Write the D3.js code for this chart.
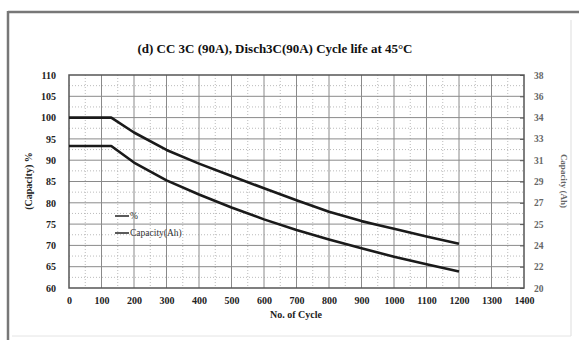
<!DOCTYPE html>
<html><head><meta charset="utf-8">
<script src="https://cdn.jsdelivr.net/npm/d3@7"></script>
<style>
html,body{margin:0;padding:0;background:#fff;}
svg{display:block;font-family:"Liberation Serif","Times New Roman",serif;}
</style></head>
<body><svg id="c" width="579" height="340"></svg>
<script>
const title = "(d) CC 3C (90A), Disch3C(90A) Cycle life at 45°C";
const cycles = [0, 130, 200, 300, 400, 500, 600, 700, 800, 900, 950, 1000, 1100, 1200];
const percentValues = [100, 100, 96.5, 92.4, 89.2, 86.3, 83.4, 80.6, 77.9, 75.7, 74.8, 73.9, 72.1, 70.4];
const capacityAh = [32.0, 32.0, 30.6, 29.1, 27.9, 26.8, 25.8, 24.9, 24.1, 23.35, 23.0, 22.65, 22.0, 21.4];
const xTicks = [0,100,200,300,400,500,600,700,800,900,1000,1100,1200,1300,1400];
const leftTicks = [60,65,70,75,80,85,90,95,100,105,110];
const rightTickLabels = ["20","22","24","25","27","29","31","33","34","36","38"];
const legendLabels = ["%", "Capacity(Ah)"];

const svg = d3.select("#c");
// frame
svg.append("line").attr("x1",8).attr("y1",12).attr("x2",579).attr("y2",12).attr("stroke","#777").attr("stroke-width",2.5);
svg.append("line").attr("x1",8).attr("y1",11).attr("x2",8).attr("y2",340).attr("stroke","#777").attr("stroke-width",2.5);
svg.append("line").attr("x1",571).attr("y1",20).attr("x2",571).attr("y2",336).attr("stroke","#ddd").attr("stroke-width",1);
svg.append("line").attr("x1",12).attr("y1",336).attr("x2",571).attr("y2",336).attr("stroke","#e4e4e4").attr("stroke-width",1);

const L=69, R=524, T=75, B=288;
const x = d3.scaleLinear().domain([0,1400]).range([L,R]);
const y = d3.scaleLinear().domain([60,110]).range([B,T]);
const y2 = d3.scaleLinear().domain([20,38]).range([B,T]);

// minor grid
const g = svg.append("g");
g.selectAll(".mv").data(d3.range(50,1400,100)).join("line")
  .attr("x1",d=>x(d)).attr("x2",d=>x(d)).attr("y1",T).attr("y2",B)
  .attr("stroke","#aaa").attr("stroke-width",0.8).attr("stroke-dasharray","1,2");
g.selectAll(".mh").data(d3.range(62.5,110,5)).join("line")
  .attr("x1",L).attr("x2",R).attr("y1",d=>y(d)).attr("y2",d=>y(d))
  .attr("stroke","#aaa").attr("stroke-width",0.8).attr("stroke-dasharray","1,2");
// major grid
g.selectAll(".gv").data(xTicks.slice(1,-1)).join("line")
  .attr("x1",d=>x(d)).attr("x2",d=>x(d)).attr("y1",T).attr("y2",B)
  .attr("stroke","#8a8a8a").attr("stroke-width",1);
g.selectAll(".gh").data(leftTicks.slice(1,-1)).join("line")
  .attr("x1",L).attr("x2",R).attr("y1",d=>y(d)).attr("y2",d=>y(d))
  .attr("stroke","#8a8a8a").attr("stroke-width",1);
// plot border
svg.append("rect").attr("x",L).attr("y",T).attr("width",R-L).attr("height",B-T)
  .attr("fill","none").attr("stroke","#555").attr("stroke-width",1.5);

// axes
const ax = svg.append("g").attr("transform",`translate(0,${B})`)
  .call(d3.axisBottom(x).tickValues(xTicks).tickFormat(d3.format("d")).tickSize(0).tickPadding(9));
const ayl = svg.append("g").attr("transform",`translate(${L},0)`)
  .call(d3.axisLeft(y).tickValues(leftTicks).tickSize(0).tickPadding(13));
const ayr = svg.append("g").attr("transform",`translate(${R},0)`)
  .call(d3.axisRight(y2).tickValues(d3.range(11).map(i=>20+i*1.8)).tickSize(-4).tickPadding(10)
    .tickFormat((d,i)=>rightTickLabels[i]));
[ax,ayl,ayr].forEach(a=>{
  a.select(".domain").remove();
  a.selectAll("text").attr("font-family","Liberation Serif").attr("font-size",10).attr("font-weight","bold").attr("fill","#222");
});
ayr.selectAll("line").attr("stroke","#555");
ayr.selectAll("text").attr("fill","#666").attr("font-size",9.5);

// lines
const line1 = d3.line().x((d,i)=>x(cycles[i])).y(d=>y(d));
const line2 = d3.line().x((d,i)=>x(cycles[i])).y(d=>y2(d));
svg.append("path").datum(percentValues).attr("d",line1).attr("fill","none").attr("stroke","#1a1a1a").attr("stroke-width",2.6).attr("stroke-linejoin","round");
svg.append("path").datum(capacityAh).attr("d",line2).attr("fill","none").attr("stroke","#1a1a1a").attr("stroke-width",2.6).attr("stroke-linejoin","round");

// legend
const lg = svg.append("g");
legendLabels.forEach((t,i)=>{
  const yy = 216 + i*17;
  lg.append("line").attr("x1",115).attr("x2",129).attr("y1",yy).attr("y2",yy).attr("stroke","#333").attr("stroke-width",1.6);
  lg.append("text").attr("x",130).attr("y",yy+3).attr("font-size",9.5).attr("fill","#333").text(t);
});

// titles
svg.append("text").attr("x",275).attr("y",53).attr("text-anchor","middle").attr("font-size",12.5).attr("font-weight","bold").attr("fill","#111")
  .attr("textLength",275).attr("lengthAdjust","spacingAndGlyphs").text(title);
svg.append("text").attr("x",296).attr("y",318).attr("text-anchor","middle").attr("font-size",10).attr("font-weight","bold").attr("fill","#222").text("No. of Cycle");
svg.append("text").attr("transform","translate(32,181) rotate(-90)").attr("text-anchor","middle").attr("font-size",10).attr("font-weight","bold").attr("fill","#222").text("(Capacity) %");
svg.append("text").attr("transform","translate(561,181) rotate(90)").attr("text-anchor","middle").attr("font-size",9).attr("font-weight","bold").attr("fill","#666").text("Capacity (Ah)");
</script></body></html>
